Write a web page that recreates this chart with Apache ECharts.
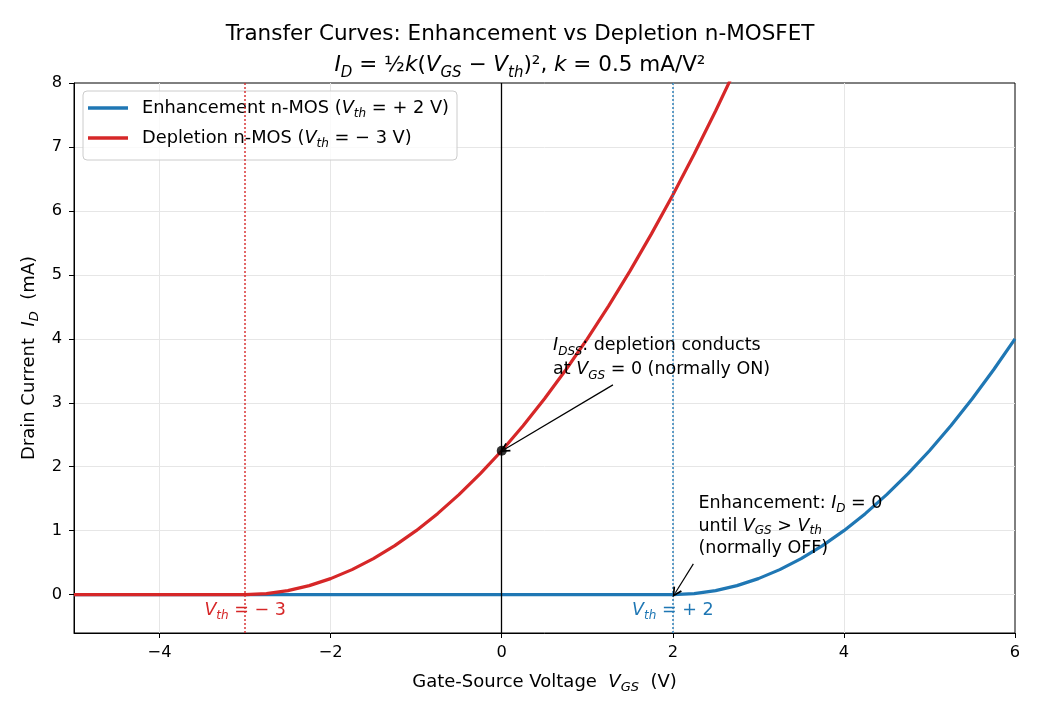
<!DOCTYPE html>
<html>
<head>
<meta charset="utf-8">
<title>Transfer Curves</title>
<script src="https://cdn.jsdelivr.net/npm/echarts@6/dist/echarts.min.js"></script>
<style>
	html, body {margin: 0; padding: 0; background: #ffffff;}
	#main {width: 1040px; height: 715px;}
</style>
</head>
<body>
<div id="main"></div>
<script>
// gate-source voltage samples (V)
var vgs = [-5, -4.75, -4.5, -4.25, -4, -3.75, -3.5, -3.25, -3, -2.75, -2.5, -2.25, -2, -1.75, -1.5, -1.25,
	-1, -0.75, -0.5, -0.25, 0, 0.25, 0.5, 0.75, 1, 1.25, 1.5, 1.75, 2, 2.25, 2.5, 2.75, 3, 3.25, 3.5, 3.75,
	4, 4.25, 4.5, 4.75, 5, 5.25, 5.5, 5.75, 6];
// drain current (mA)
var enhCurrent = [0, 0, 0, 0, 0, 0, 0, 0, 0, 0, 0, 0, 0, 0, 0, 0, 0, 0, 0, 0, 0, 0, 0, 0, 0, 0, 0, 0, 0,
	0.016, 0.063, 0.141, 0.25, 0.391, 0.563, 0.766, 1, 1.266, 1.563, 1.891, 2.25, 2.641, 3.063, 3.516, 4];
var depCurrent = [0, 0, 0, 0, 0, 0, 0, 0, 0,
	0.016, 0.063, 0.141, 0.25, 0.391, 0.563, 0.766, 1, 1.266, 1.563, 1.891, 2.25, 2.641, 3.063, 3.516,
	4, 4.516, 5.063, 5.641, 6.25, 6.891, 7.563, 8.266];
var xTicks = [-4, -2, 0, 2, 4, 6];
var yTicks = [0, 1, 2, 3, 4, 5, 6, 7, 8];
var idssPoint = [0, 2.25];
var thresholds = {enh: 2, dep: -3};

var FONT = 'DejaVu Sans';
var BLUE = '#1f77b4';
var RED = '#d62728';
// open arrow head, like matplotlib '->'
var ARROW = 'path://M0,10 L5,0 L10,10 L8.4,10.8 L5,3.6 L1.6,10.8 Z';

function pairs(xs, ys) {
	var out = [];
	for (var i = 0; i < ys.length; i++) {
		out.push([xs[i], ys[i]]);
	}
	return out;
}

function richSet(size, color, lh) {
	var sub = Math.round(size * 0.7);
	lh = lh || size + 5;
	return {
		n: {fontFamily: FONT, fontSize: size, color: color, lineHeight: lh},
		i: {fontFamily: FONT, fontSize: size, color: color, fontStyle: 'italic', lineHeight: lh},
		s: {fontFamily: FONT, fontSize: sub, color: color, fontStyle: 'italic', lineHeight: sub + 2, verticalAlign: 'bottom'}
	};
}

window.onload = function () {
	var ele = document.getElementById('main');
	var myChart = echarts.init(ele);

	var legendNames = {
		'Enhancement n-MOS': '{n|Enhancement n-MOS (}{i|V}{s|th}{n| = + 2 V)}',
		'Depletion n-MOS': '{n|Depletion n-MOS (}{i|V}{s|th}{n| = − 3 V)}'
	};

	var options = {
		animation: false,
		backgroundColor: '#ffffff',
		title: {
			left: 'center',
			top: 14,
			text: '{n|Transfer Curves: Enhancement vs Depletion n-MOSFET}\n' +
				'{i|I}{s|D}{n| = ½}{i|k}{n|(}{i|V}{s|GS}{n| − }{i|V}{s|th}{n|)², }{i|k}{n| = 0.5 mA/V²}',
			textStyle: {
				fontFamily: FONT,
				fontWeight: 'normal',
				fontSize: 21.5,
				color: '#000',
				rich: richSet(21.5, '#000', 31)
			}
		},
		legend: {
			left: 83,
			top: 91,
			orient: 'vertical',
			padding: [8, 8, 10, 5],
			itemGap: 9,
			icon: 'rect',
			itemWidth: 40,
			itemHeight: 3.5,
			borderColor: '#cccccc',
			borderWidth: 1,
			borderRadius: 4,
			backgroundColor: 'rgba(255,255,255,0.8)',
			data: ['Enhancement n-MOS', 'Depletion n-MOS'],
			formatter: function (name) {
				return legendNames[name]
			},
			textStyle: {
				padding: [0, 0, 0, 9],
				rich: richSet(17.8, '#000', 24)
			}
		},
		grid: {
			left: 74,
			right: 25,
			top: 83,
			bottom: 82,
			show: true,
			borderColor: '#000',
			borderWidth: 1,
			backgroundColor: 'transparent'
		},
		xAxis: {
			type: 'value',
			min: -5,
			max: 6,
			name: '{n|Gate-Source Voltage  }{i|V}{s|GS}{n|  (V)}',
			nameLocation: 'middle',
			nameGap: 38,
			nameTextStyle: {rich: richSet(18, '#000')},
			axisLine: {show: true, onZero: false, lineStyle: {color: '#000', width: 1}},
			axisTick: {show: true, length: 5, customValues: xTicks, lineStyle: {color: '#000'}},
			axisLabel: {
				customValues: xTicks,
				margin: 12,
				fontFamily: FONT,
				fontSize: 16.25,
				color: '#000',
				formatter: function (v) {
					return String(v).replace('-', '−')
				}
			},
			splitLine: {show: true, showMaxLine: false, lineStyle: {color: '#e6e6e6', width: 1}}
		},
		yAxis: {
			type: 'value',
			min: -0.6,
			max: 8,
			name: '{n|Drain Current  }{i|I}{s|D}{n|  (mA)}',
			nameLocation: 'middle',
			nameRotate: 90,
			nameGap: 28,
			nameTextStyle: {rich: richSet(18, '#000')},
			axisLine: {show: true, onZero: false, lineStyle: {color: '#000', width: 1}},
			axisTick: {show: true, length: 5, customValues: yTicks, lineStyle: {color: '#000'}},
			axisLabel: {
				customValues: yTicks,
				margin: 12,
				fontFamily: FONT,
				fontSize: 16.25,
				color: '#000'
			},
			splitLine: {show: true, showMaxLine: false, lineStyle: {color: '#e6e6e6', width: 1}}
		},
		series: [
			{
				name: 'Enhancement n-MOS',
				type: 'line',
				symbol: 'none',
				smooth: false,
				z: 3,
				lineStyle: {color: BLUE, width: 3.2},
				itemStyle: {color: BLUE},
				data: pairs(vgs, enhCurrent)
			},
			{
				name: 'Depletion n-MOS',
				type: 'line',
				symbol: 'none',
				smooth: false,
				z: 3,
				lineStyle: {color: RED, width: 3.2},
				itemStyle: {color: RED},
				data: pairs(vgs, depCurrent)
			},
			{
				name: 'IDSS',
				type: 'scatter',
				symbol: 'circle',
				symbolSize: 10,
				z: 5,
				itemStyle: {color: '#000'},
				data: [idssPoint],
				markLine: {
					silent: true,
					symbol: ['none', 'none'],
					animation: false,
					label: {show: false},
					data: [
						{xAxis: 0, lineStyle: {color: '#000', width: 1.3, type: 'solid'}},
						{xAxis: thresholds.dep, lineStyle: {color: 'rgba(214,39,40,0.7)', width: 2, type: 'dotted'}},
						{xAxis: thresholds.enh, lineStyle: {color: 'rgba(31,119,180,0.7)', width: 2, type: 'dotted'}},
						[
							{coord: [1.30, 3.28], lineStyle: {color: '#000', width: 1.2, type: 'solid'}},
							{coord: [0.03, 2.27], symbol: ARROW, symbolSize: [10, 10]}
						],
						[
							{coord: [2.24, 0.48], lineStyle: {color: '#000', width: 1.2, type: 'solid'}},
							{coord: [2.03, 0.03], symbol: ARROW, symbolSize: [10, 10]}
						]
					]
				},
				markPoint: {
					silent: true,
					symbolSize: 0,
					itemStyle: {color: 'transparent'},
					data: [
						{
							coord: [0.6, 4.08],
							label: {
								show: true, position: 'inside', align: 'left', verticalAlign: 'top',
								formatter: '{i|I}{s|DSS}{n|: depletion conducts}\n{n|at }{i|V}{s|GS}{n| = 0 (normally ON)}',
								rich: richSet(17.5, '#000', 24)
							}
						},
						{
							coord: [2.3, 1.6],
							label: {
								show: true, position: 'inside', align: 'left', verticalAlign: 'top',
								formatter: '{n|Enhancement: }{i|I}{s|D}{n| = 0}\n{n|until }{i|V}{s|GS}{n| > }{i|V}{s|th}\n{n|(normally OFF)}',
								rich: richSet(17.5, '#000', 22.5)
							}
						},
						{
							coord: [thresholds.dep, -0.25],
							label: {
								show: true, position: 'inside', align: 'center', verticalAlign: 'middle',
								formatter: '{i|V}{s|th}{n| = − 3}',
								rich: richSet(17.5, RED)
							}
						},
						{
							coord: [thresholds.enh, -0.25],
							label: {
								show: true, position: 'inside', align: 'center', verticalAlign: 'middle',
								formatter: '{i|V}{s|th}{n| = + 2}',
								rich: richSet(17.5, BLUE)
							}
						}
					]
				}
			}
		]
	}
	myChart.setOption(options);
}
</script>
</body>
</html>
